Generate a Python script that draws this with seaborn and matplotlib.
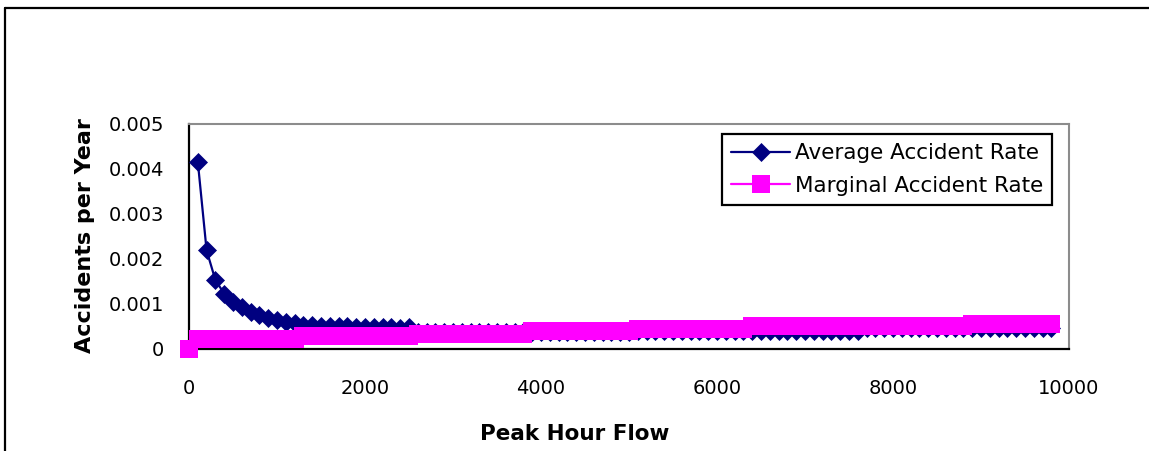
import matplotlib
matplotlib.use("Agg")
import matplotlib.pyplot as plt
import seaborn as sns
import pandas as pd
from matplotlib.lines import Line2D

# ---------------- data ----------------
flow_marginal = [
    0, 100, 200, 300, 400, 500, 600, 700, 800, 900,
    1000, 1100, 1200, 1300, 1400, 1500, 1600, 1700, 1800, 1900,
    2000, 2100, 2200, 2300, 2400, 2500, 2600, 2700, 2800, 2900,
    3000, 3100, 3200, 3300, 3400, 3500, 3600, 3700, 3800, 3900,
    4000, 4100, 4200, 4300, 4400, 4500, 4600, 4700, 4800, 4900,
    5000, 5100, 5200, 5300, 5400, 5500, 5600, 5700, 5800, 5900,
    6000, 6100, 6200, 6300, 6400, 6500, 6600, 6700, 6800, 6900,
    7000, 7100, 7200, 7300, 7400, 7500, 7600, 7700, 7800, 7900,
    8000, 8100, 8200, 8300, 8400, 8500, 8600, 8700, 8800, 8900,
    9000, 9100, 9200, 9300, 9400, 9500, 9600, 9700, 9800,
]
marginal_rate = [
    0.0,
    0.00021, 0.00021, 0.00021, 0.00021, 0.00021, 0.00021,
    0.00021, 0.00021, 0.00021, 0.00021, 0.00021, 0.00021,
    0.00028, 0.00028, 0.00028, 0.00028, 0.00028, 0.00028, 0.00028,
    0.00028, 0.00028, 0.00028, 0.00028, 0.00028, 0.00028,
    0.00032, 0.00032, 0.00032, 0.00032, 0.00032, 0.00032, 0.00032,
    0.00032, 0.00032, 0.00032, 0.00032, 0.00032, 0.00032,
    0.00039, 0.00039, 0.00039, 0.00039, 0.00039, 0.00039,
    0.00039, 0.00039, 0.00039, 0.00039, 0.00039, 0.00039,
    0.00043, 0.00043, 0.00043, 0.00043, 0.00043, 0.00043, 0.00043,
    0.00043, 0.00043, 0.00043, 0.00043, 0.00043, 0.00043,
    0.00050, 0.00050, 0.00050, 0.00050, 0.00050, 0.00050, 0.00050,
    0.00050, 0.00050, 0.00050, 0.00050, 0.00050, 0.00050, 0.00050,
    0.00050, 0.00050, 0.00050, 0.00050, 0.00050, 0.00050, 0.00050,
    0.00050, 0.00050, 0.00050, 0.00050,
    0.00054, 0.00054, 0.00054, 0.00054, 0.00054,
    0.00054, 0.00054, 0.00054, 0.00054, 0.00054,
]

flow_average = [
    100, 200, 300, 400, 500, 600, 700, 800, 900,
    1000, 1100, 1200, 1300, 1400, 1500, 1600, 1700, 1800, 1900,
    2000, 2100, 2200, 2300, 2400, 2500, 2600, 2700, 2800, 2900,
    3000, 3100, 3200, 3300, 3400, 3500, 3600, 3700, 3800, 3900,
    4000, 4100, 4200, 4300, 4400, 4500, 4600, 4700, 4800, 4900,
    5000, 5100, 5200, 5300, 5400, 5500, 5600, 5700, 5800, 5900,
    6000, 6100, 6200, 6300, 6400, 6500, 6600, 6700, 6800, 6900,
    7000, 7100, 7200, 7300, 7400, 7500, 7600, 7700, 7800, 7900,
    8000, 8100, 8200, 8300, 8400, 8500, 8600, 8700, 8800, 8900,
    9000, 9100, 9200, 9300, 9400, 9500, 9600, 9700, 9800,
]
average_rate = [
    0.00415, 0.00218, 0.00152, 0.00122, 0.00103, 0.00092, 0.00081, 0.00074, 0.00067,
    0.00064, 0.00058, 0.00057, 0.00053, 0.00053, 0.00050, 0.00050, 0.00049, 0.00049, 0.00048,
    0.00048, 0.00047, 0.00047, 0.00047, 0.00046, 0.00047, 0.00036, 0.00036, 0.00036, 0.00036,
    0.00036, 0.00036, 0.00036, 0.00036, 0.00036, 0.00036, 0.00036, 0.00036, 0.00036, 0.00036,
    0.00036, 0.00036, 0.00036, 0.00036, 0.00036, 0.00036, 0.00036, 0.00036, 0.00036, 0.00036,
    0.00036, 0.00038, 0.00038, 0.00038, 0.00038, 0.00038, 0.00038, 0.00038, 0.00038, 0.00038,
    0.00038, 0.00038, 0.00038, 0.00038, 0.00038, 0.00038, 0.00038, 0.00038, 0.00038, 0.00038,
    0.00038, 0.00038, 0.00038, 0.00038, 0.00038, 0.00038, 0.00038, 0.00045, 0.00045, 0.00045,
    0.00045, 0.00045, 0.00045, 0.00045, 0.00045, 0.00045, 0.00045, 0.00045, 0.00045, 0.00045,
    0.00045, 0.00045, 0.00045, 0.00045, 0.00045, 0.00045, 0.00045, 0.00045, 0.00045,
]

x_ticks = [0, 2000, 4000, 6000, 8000, 10000]
x_tick_labels = ["0", "2000", "4000", "6000", "8000", "10000"]
y_ticks = [0, 0.001, 0.002, 0.003, 0.004, 0.005]
y_tick_labels = ["0", "0.001", "0.002", "0.003", "0.004", "0.005"]

series_names = ["Average Accident Rate", "Marginal Accident Rate"]
x_label = "Peak Hour Flow"
y_label = "Accidents per Year"

# ---------------- styling ----------------
sns.set_style("white")
plt.rcParams["font.family"] = ["DejaVu Sans"]
plt.rcParams["text.color"] = "black"
plt.rcParams["axes.labelcolor"] = "black"
plt.rcParams["xtick.color"] = "black"
plt.rcParams["ytick.color"] = "black"

W, H = 1149, 451
fig, ax = plt.subplots(figsize=(W / 100, H / 100), dpi=100)
fig.subplots_adjust(left=189 / W, right=1069 / W,
                    bottom=1 - 348.5 / H, top=1 - 123.5 / H)

avg_df = pd.DataFrame({"flow": flow_average, "rate": average_rate})
mar_df = pd.DataFrame({"flow": flow_marginal, "rate": marginal_rate})

sns.lineplot(data=avg_df, x="flow", y="rate", ax=ax, color="#000080",
             marker="D", markersize=9, markeredgecolor="#000080",
             markeredgewidth=0.5, linewidth=1.6, label=series_names[0],
             clip_on=False, zorder=3)
sns.lineplot(data=mar_df, x="flow", y="rate", ax=ax, color="#FF00FF",
             marker="s", markersize=13.5, markeredgecolor="#FF00FF",
             markeredgewidth=0, linewidth=1.6, label=series_names[1],
             clip_on=False, zorder=4)

ax.set_xlim(0, 10000)
ax.set_ylim(0, 0.005)
ax.set_xticks(x_ticks)
ax.set_xticklabels(x_tick_labels)
ax.set_yticks(y_ticks)
ax.set_yticklabels(y_tick_labels)

ax.tick_params(axis="both", direction="inout", length=9, width=1.5,
               color="black", labelsize=14, labelcolor="black")
ax.tick_params(axis="x", pad=17.5)
ax.tick_params(axis="y", pad=13.5)

for side in ["left", "bottom"]:
    ax.spines[side].set_color("black")
    ax.spines[side].set_linewidth(1.6)
for side in ["top", "right"]:
    ax.spines[side].set_color("#8c8c8c")
    ax.spines[side].set_linewidth(1.5)
    ax.spines[side].set_visible(True)

ax.set_xlabel(x_label, fontsize=15.5, fontweight="bold", va="center",
              color="black")
ax.xaxis.set_label_coords((574.5 - 189) / 880, -0.382)
ax.set_ylabel(y_label, fontsize=16, fontweight="bold", va="center",
              color="black")
ax.yaxis.set_label_coords(-0.118, 0.504)

leg = ax.legend(loc="upper right", bbox_to_anchor=(0.981, 0.953),
                borderaxespad=0, fontsize=15.5, frameon=True, fancybox=False,
                edgecolor="black", framealpha=1, handlelength=2.7,
                handletextpad=0.25, labelspacing=0.58, borderpad=0.42)
leg.get_frame().set_linewidth(1.6)
for t in leg.get_texts():
    t.set_color("black")

# outer chart frame (top and left edges visible in the reference)
fig.add_artist(Line2D([5 / W, 1.0], [1 - 8 / H, 1 - 8 / H],
                      transform=fig.transFigure, color="black", lw=1.6))
fig.add_artist(Line2D([5 / W, 5 / W], [0.0, 1 - 8 / H],
                      transform=fig.transFigure, color="black", lw=1.6))

fig.savefig("out.png", dpi=100)
